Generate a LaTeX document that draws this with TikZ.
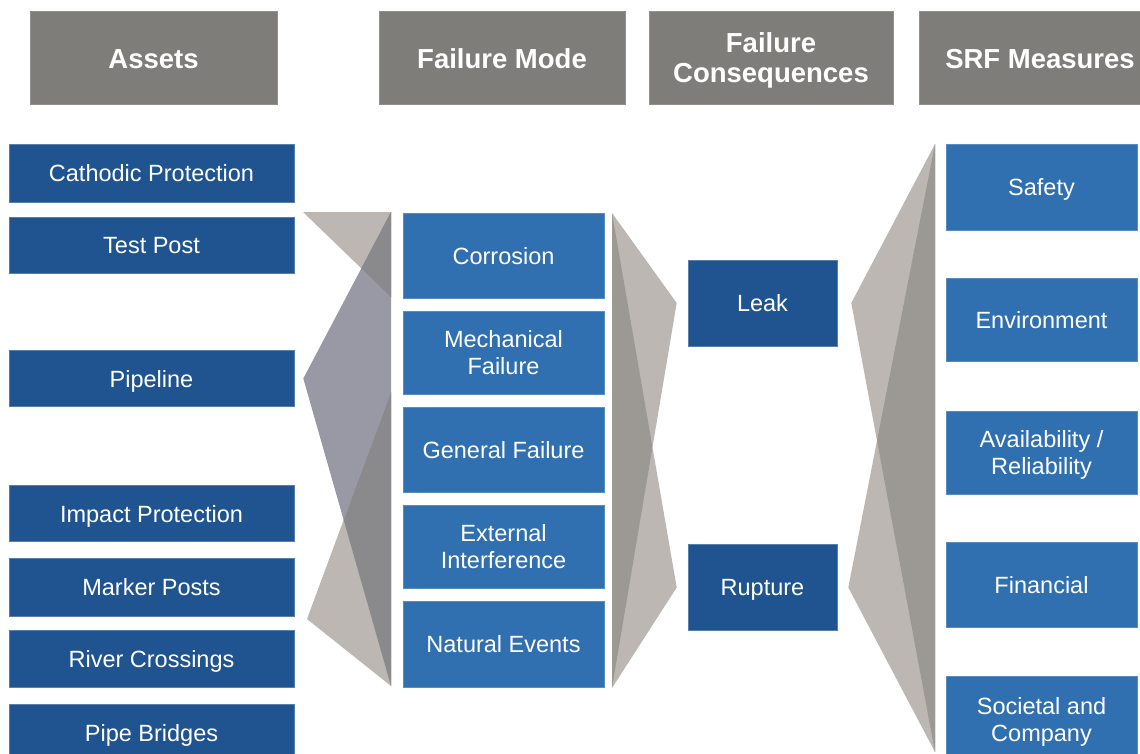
\documentclass[tikz,border=0pt]{standalone}
\usepackage{fontspec}
\setmainfont{Liberation Sans}
\usetikzlibrary{calc}
\definecolor{hdrgray}{HTML}{7F7D79}
\definecolor{darkblue}{HTML}{1F5490}
\definecolor{midblue}{HTML}{3070B0}
\definecolor{tanc}{HTML}{BDB7B3}
\definecolor{bluegray}{HTML}{9899A5}
\definecolor{overlapL}{HTML}{8A8A8C}
\definecolor{overlapM}{HTML}{9C9894}
\newcommand{\hdrtxt}[2]{\raisebox{#1}[\height][\depth]{\begin{tabular}{@{}c@{}}#2\end{tabular}}}
\begin{document}
\begin{tikzpicture}[x=1pt,y=-1pt,
  header/.style={fill=hdrgray, draw=hdrgray!85!white, line width=0.6pt, text=white, font=\fontsize{27.5}{30}\selectfont\bfseries, inner sep=0pt, minimum height=93pt},
  basebox/.style={text=white, font=\fontsize{23.5}{27}\selectfont, align=center, inner sep=0pt, text depth=0pt, line width=0.6pt},
  assetbox/.style={basebox, fill=darkblue, draw=darkblue!75!white, minimum width=285pt},
  modebox/.style={basebox, fill=midblue, draw=midblue!80!white, minimum width=201pt},
  consbox/.style={basebox, fill=darkblue, draw=darkblue!75!white, minimum width=149pt, minimum height=86pt},
  srfbox/.style={basebox, fill=midblue, draw=midblue!80!white, minimum width=191pt},
  tanshape/.style={fill=tanc},
  bgshape/.style={fill=bluegray},
  darkL/.style={fill=overlapL},
  darkM/.style={fill=overlapM}
]
\clip (0,0) rectangle (1140,753);
\fill[white] (0,0) rectangle (1140,753);

% headers
\node[header, minimum width=247pt] (hA) at (153.5,57.5) {\hdrtxt{-5.3pt}{Assets}};
\node[header, minimum width=246pt] (hM) at (502,57.5) {\hdrtxt{-5.3pt}{Failure Mode}};
\node[header, minimum width=244pt] (hC) at (771,57.5) {\hdrtxt{-3.9pt}{Failure\\Consequences}};
\node[header, minimum width=242pt] (hS) at (1040,57.5) {\hdrtxt{-5.3pt}{SRF Measures}};

% assets
\node[assetbox, minimum height=58pt] (cath) at (151.5,173) {Cathodic Protection};
\node[assetbox, minimum height=56pt] (test) at (151.5,245) {Test Post};
\node[assetbox, minimum height=56pt] (pipe) at (151.5,378.5) {Pipeline};
\node[assetbox, minimum height=56pt] (impact) at (151.5,513.5) {Impact Protection};
\node[assetbox, minimum height=58pt] (marker) at (151.5,587) {Marker Posts};
\node[assetbox, minimum height=57pt] (river) at (151.5,658.5) {River Crossings};
\node[assetbox, minimum height=58pt] (bridge) at (151.5,733) {Pipe Bridges};

% failure modes
\node[modebox, minimum height=85pt] (corr) at (503.5,255.5) {Corrosion};
\node[modebox, minimum height=83pt] (mech) at (503.5,352.5) {Mechanical\\Failure};
\node[modebox, minimum height=85pt] (gen) at (503.5,449.5) {General Failure};
\node[modebox, minimum height=83pt] (ext) at (503.5,546.5) {External\\Interference};
\node[modebox, minimum height=86pt] (nat) at (503.5,644) {Natural Events};

% consequences
\node[consbox] (leak) at (762.5,303) {Leak};
\node[consbox] (rupt) at (762.5,587.5) {Rupture};

% SRF measures
\node[srfbox, minimum height=86pt] (safe) at (1041.5,187) {Safety};
\node[srfbox, minimum height=83pt] (env) at (1041.5,319.5) {Environment};
\node[srfbox, minimum height=83pt] (avail) at (1041.5,452.5) {Availability /\\Reliability};
\node[srfbox, minimum height=85pt] (fin) at (1041.5,584.5) {Financial};
\node[srfbox, minimum height=86pt] (soc) at (1041.5,719) {Societal and\\Company};

% left connector shapes
\coordinate (ltop) at (391,212);
\coordinate (lbot) at (391,686);
\coordinate (lmidA) at (391,297);
\coordinate (lmidB) at (391,392);
\coordinate (ltl) at (303,212);
\coordinate (lbl) at (307,619);
\coordinate (ptip) at ($(pipe.east)+(9,0)$);
\fill[tanshape] (ltl) -- (ltop) -- (lmidA) -- cycle;
\fill[bgshape] (ptip) -- (ltop) -- (lbot) -- cycle;
\fill[tanshape] (lbl) -- (lmidB) -- (lbot) -- cycle;
\begin{scope}
  \clip (ptip) -- (ltop) -- (lbot) -- cycle;
  \fill[darkL] (ltl) -- (ltop) -- (lmidA) -- cycle;
  \fill[darkL] (lbl) -- (lmidB) -- (lbot) -- cycle;
\end{scope}

% middle connector shapes
\coordinate (mtop) at (612,213);
\coordinate (mbot) at (612,688);
\coordinate (leakL) at ($(leak.west)+(-11,0)$);
\coordinate (ruptL) at ($(rupt.west)+(-11,0)$);
\fill[tanshape] (mtop) -- (leakL) -- (mbot) -- cycle;
\fill[tanshape] (mtop) -- (ruptL) -- (mbot) -- cycle;
\begin{scope}
  \clip (mtop) -- (leakL) -- (mbot) -- cycle;
  \fill[darkM] (mtop) -- (ruptL) -- (mbot) -- cycle;
\end{scope}

% right connector shapes
\coordinate (rtop) at (935,144);
\coordinate (rbot) at (935,752);
\coordinate (leakR) at ($(leak.east)+(14,0)$);
\coordinate (ruptR) at ($(rupt.east)+(11,0)$);
\fill[tanshape] (rtop) -- (leakR) -- (rbot) -- cycle;
\fill[tanshape] (rtop) -- (ruptR) -- (rbot) -- cycle;
\begin{scope}
  \clip (rtop) -- (leakR) -- (rbot) -- cycle;
  \fill[darkM] (rtop) -- (ruptR) -- (rbot) -- cycle;
\end{scope}
\end{tikzpicture}
\end{document}
